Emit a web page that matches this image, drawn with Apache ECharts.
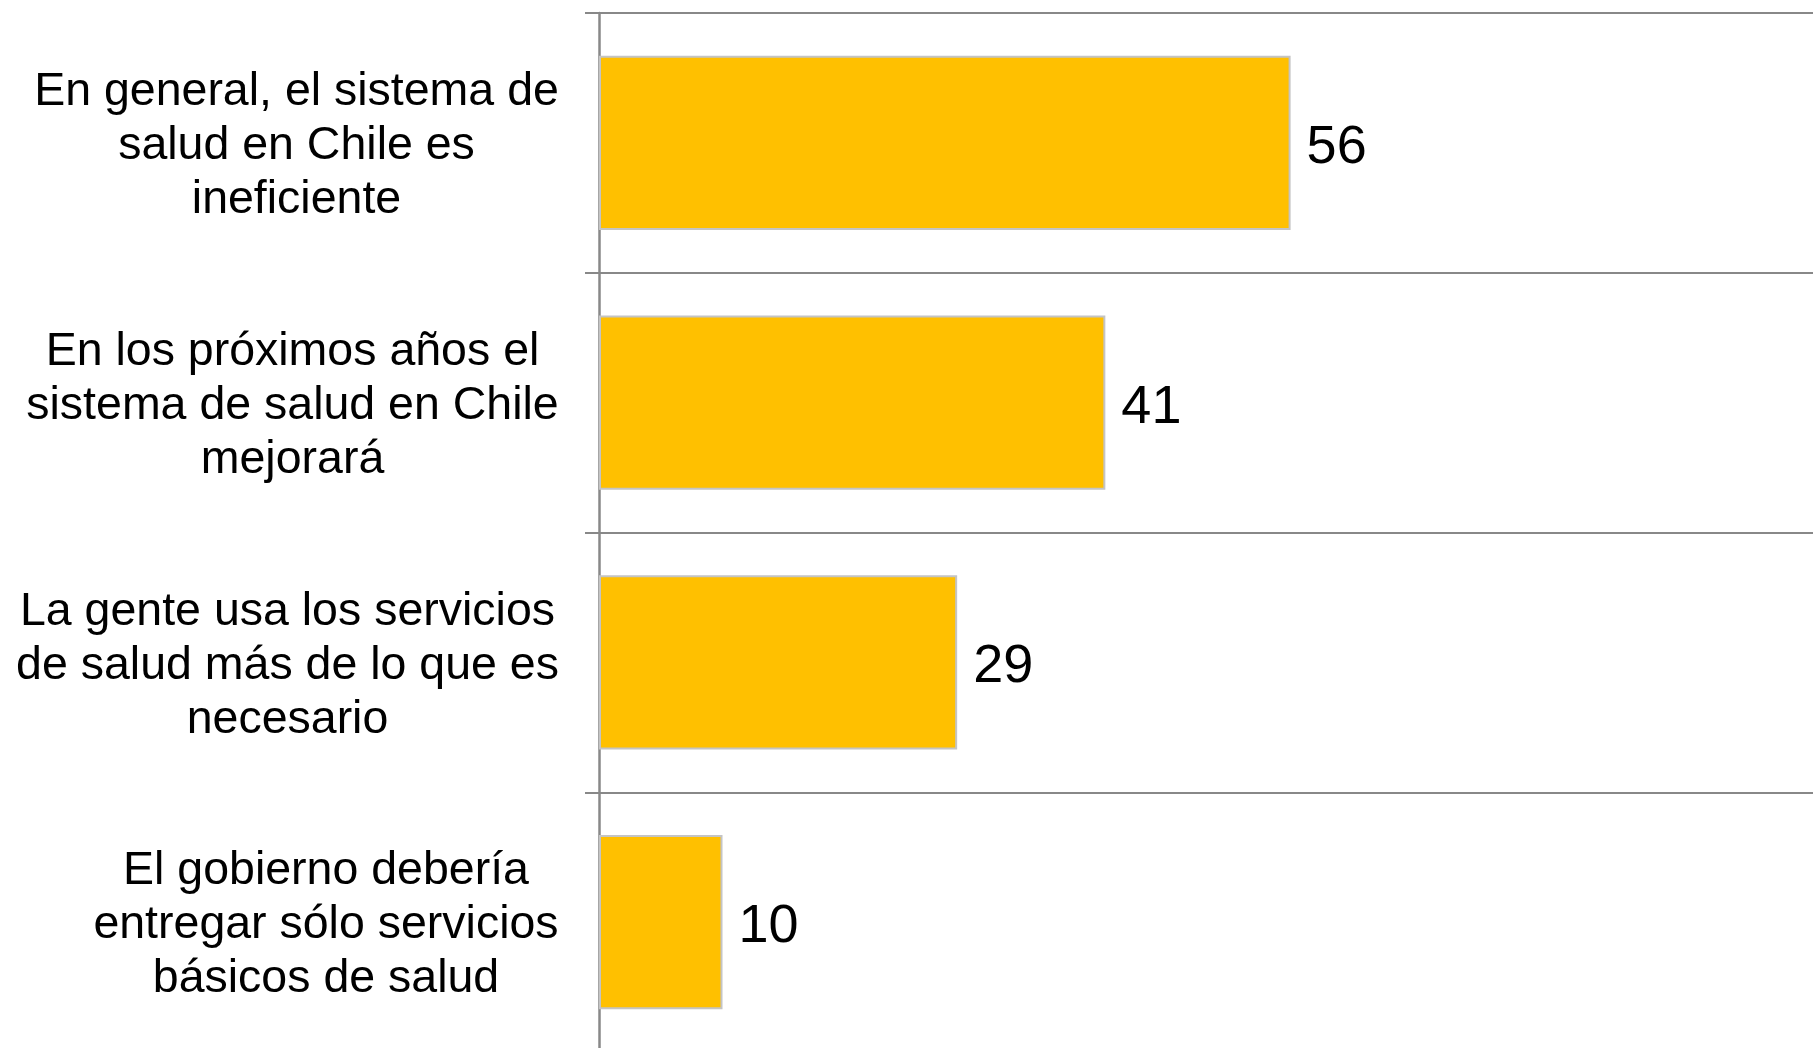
<!DOCTYPE html>
<html>
<head>
<meta charset="utf-8">
<script src="https://cdn.jsdelivr.net/npm/echarts@6/dist/echarts.min.js"></script>
<style>
  html, body { margin: 0; padding: 0; background: #fff; }
  #chart { width: 1813px; height: 1048px; }
</style>
</head>
<body>
<div id="chart"></div>
<script>
// categories, top to bottom
var categories = [
  'En general, el sistema de\nsalud en Chile es\nineficiente',
  'En los próximos años el\nsistema de salud en Chile\nmejorará',
  'La gente usa los servicios\nde salud más de lo que es\nnecesario',
  'El gobierno debería\nentregar sólo servicios\nbásicos de salud'
];
var values = [56, 41, 29, 10];

var FONT = '"Liberation Sans", Arial, sans-serif';
var labelSize = 46.5;

// each label block is right aligned, lines centred inside the block
var ctx = document.createElement('canvas').getContext('2d');
ctx.font = labelSize + 'px ' + FONT;
var rich = {};
categories.forEach(function (c, i) {
  var w = 0;
  c.split('\n').forEach(function (l) { w = Math.max(w, ctx.measureText(l).width); });
  rich['c' + i] = {
    width: Math.ceil(w),
    align: 'center',
    fontSize: labelSize,
    lineHeight: 54,
    color: '#000',
    fontFamily: FONT
  };
});

var chart = echarts.init(document.getElementById('chart'));
chart.setOption({
  animation: false,
  // plot runs a little past the right and bottom edges, as in the original
  grid: {
    left: 599, top: 13, width: 1235, height: 1039,
    containLabel: false,
    outerBoundsMode: 'none'
  },
  xAxis: {
    type: 'value',
    min: 0,
    max: 100,
    show: false
  },
  yAxis: {
    type: 'category',
    inverse: true,
    data: categories,
    axisLine: { show: true, lineStyle: { color: '#888', width: 2.5 } },
    axisTick: { show: true, length: 14, lineStyle: { color: '#888', width: 2 } },
    splitLine: { show: true, showMinLine: true, showMaxLine: true, lineStyle: { color: '#888', width: 2 } },
    axisLabel: {
      margin: 40,
      align: 'right',
      padding: [7, 0, 0, 0],
      formatter: function (v) {
        var i = categories.indexOf(v);
        return v.split('\n').map(function (l) { return '{c' + i + '|' + l + '}'; }).join('\n');
      },
      rich: rich
    }
  },
  series: [{
    type: 'bar',
    data: values,
    barCategoryGap: '33%',
    itemStyle: { color: '#FFC000', borderColor: '#c4c4c4', borderWidth: 2 },
    label: {
      show: true,
      position: 'right',
      distance: 16,
      offset: [0, 5],
      fontSize: 54,
      color: '#000',
      fontFamily: FONT
    }
  }]
});
</script>
</body>
</html>
